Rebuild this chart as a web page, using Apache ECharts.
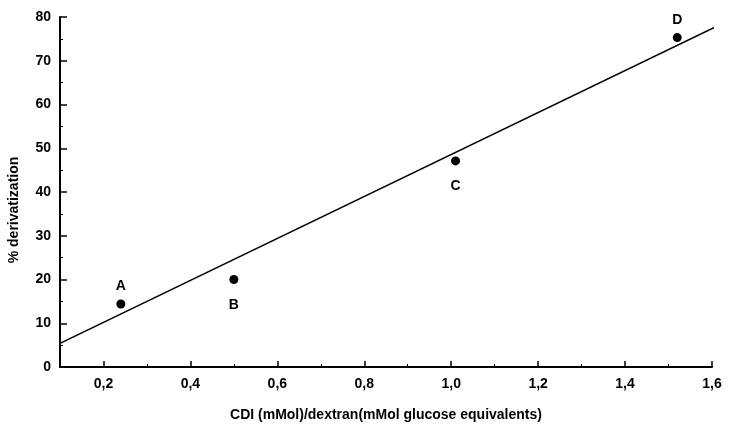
<!DOCTYPE html>
<html>
<head>
<meta charset="utf-8">
<script src="https://cdn.jsdelivr.net/npm/echarts@6/dist/echarts.min.js"></script>
<style>
  html, body { margin: 0; padding: 0; background: #fff; }
  #chart { width: 731px; height: 428px; }
</style>
</head>
<body>
<div id="chart"></div>
<script>
// Measured samples
const sampleNames = ['A', 'B', 'C', 'D'];
const cdiRatio = [0.24, 0.5, 1.01, 1.52];
const derivatization = [14.4, 20.0, 47.1, 75.3];
const labelSide = ['top', 'bottom', 'bottom', 'top'];

// Fitted straight line, end points
const fitX = [0.1, 1.63];
const fitY = [5.4, 78.8];

// x axis tick positions
const xMajorTicks = [0.2, 0.4, 0.6, 0.8, 1.0, 1.2, 1.4, 1.6];
const xMinorTicks = [0.1, 0.3, 0.5, 0.7, 0.9, 1.1, 1.3, 1.5];

const xTitle = 'CDI (mMol)/dextran(mMol glucose equivalents)';
const yTitle = '% derivatization';

const font = 'Liberation Sans, Arial, sans-serif';
const ink = '#000';

const points = sampleNames.map((n, i) => ({
  value: [cdiRatio[i], derivatization[i]],
  name: n,
  label: { position: labelSide[i], distance: labelSide[i] === 'top' ? 6 : 14 }
}));

const chart = echarts.init(document.getElementById('chart'), null, { renderer: 'canvas' });
chart.setOption({
  animation: false,
  backgroundColor: '#fff',
  grid: { left: 60, right: 19, top: 17, bottom: 61, outerBoundsMode: 'none', containLabel: false },
  graphic: [
    {
      // y axis title, set a little below the axis middle
      type: 'text',
      x: 14, y: 210,
      rotation: Math.PI / 2,
      style: {
        text: yTitle,
        font: 'bold 14px ' + font,
        fill: ink,
        align: 'center',
        verticalAlign: 'middle'
      }
    }
  ],
  xAxis: [
    {
      type: 'value',
      min: 0.1, max: 1.6,
      name: xTitle,
      nameLocation: 'middle',
      nameGap: 41,
      nameTextStyle: { fontFamily: font, fontSize: 14, fontWeight: 'bold', color: ink },
      axisLine: { onZero: false, lineStyle: { color: ink, width: 2 } },
      axisTick: { inside: true, length: 6, customValues: xMajorTicks, lineStyle: { color: ink, width: 1.5 } },
      splitLine: { show: false },
      axisLabel: {
        customValues: xMajorTicks,
        fontFamily: font, fontSize: 14, fontWeight: 'bold', color: ink, margin: 10,
        formatter: v => v.toFixed(1).replace('.', ',')
      }
    },
    {
      // minor ticks only
      type: 'value',
      position: 'bottom',
      min: 0.1, max: 1.6,
      axisLine: { show: false, onZero: false },
      axisTick: { inside: true, length: 3, customValues: xMinorTicks, lineStyle: { color: ink, width: 1 } },
      axisLabel: { show: false },
      splitLine: { show: false }
    }
  ],
  yAxis: {
    type: 'value',
    min: 0, max: 80, interval: 10,
    axisLine: { lineStyle: { color: ink, width: 2 } },
    axisTick: { inside: true, length: 7, lineStyle: { color: ink, width: 1.5 } },
    minorTick: { show: true, splitNumber: 2, length: 3, lineStyle: { color: ink, width: 1 } },
    splitLine: { show: false },
    axisLabel: { fontFamily: font, fontSize: 14, fontWeight: 'bold', color: ink, margin: 9 }
  },
  series: [
    {
      type: 'line',
      data: fitX.map((x, i) => [x, fitY[i]]),
      showSymbol: false,
      clip: false,
      lineStyle: { color: ink, width: 1.6 },
      silent: true
    },
    {
      type: 'scatter',
      data: points,
      symbolSize: 9,
      itemStyle: { color: ink, opacity: 1 },
      label: {
        show: true,
        formatter: p => p.name,
        fontFamily: font, fontSize: 14, fontWeight: 'bold', color: ink
      }
    }
  ]
});
</script>
</body>
</html>
